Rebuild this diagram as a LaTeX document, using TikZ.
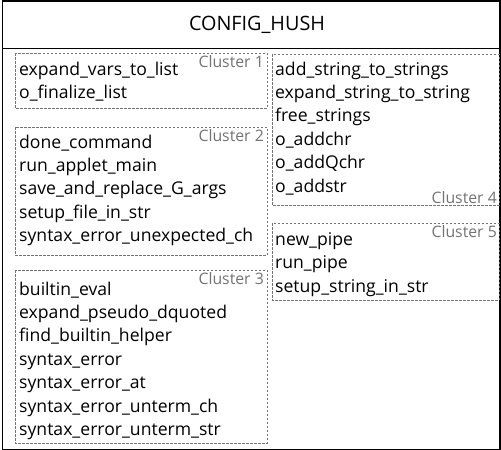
\documentclass[tikz,border=0pt]{standalone}
\usepackage{fontspec}
\setmainfont{Open Sans}
\begin{document}
\begin{tikzpicture}[x=1pt,y=-1pt,
  fn/.style={anchor=base west,inner sep=0pt,font=\fontsize{17.6}{20}\selectfont,text=black},
  clabel/.style={inner sep=0pt,font=\fontsize{15.8}{18}\selectfont,text=black!55},
  cluster/.style={draw=black!55,dashed,dash pattern=on 2.5pt off 1.5pt,line width=0.8pt}]
\useasboundingbox (0,0) rectangle (501,450);
% outer frame
\draw[line width=1.2pt] (2.5,1) rectangle (500,449.5);
\draw[line width=1pt] (2.5,48) -- (500,48);
\node[inner sep=0pt,font=\fontsize{19.8}{23}\selectfont] (title) at (257,25) {CONFIG\_HUSH};
% clusters
\draw[cluster] (15,53) rectangle (267,108);
\draw[cluster] (15,127) rectangle (267,255);
\draw[cluster] (15,270) rectangle (267,443);
\draw[cluster] (272,54) rectangle (499,205);
\draw[cluster] (272,223) rectangle (499,300);
\node[clabel,anchor=north east] (l1) at (264,55) {Cluster 1};
\node[clabel,anchor=north east] (l2) at (264,129) {Cluster 2};
\node[clabel,anchor=north east] (l3) at (264,272) {Cluster 3};
\node[clabel,anchor=south east] (l4) at (497,204) {Cluster 4};
\node[clabel,anchor=north east] (l5) at (497,225) {Cluster 5};
% cluster 1
\node[fn] (a1) at (19,75) {expand\_vars\_to\_list};
\node[fn] (a2) at (19,98.4) {o\_finalize\_list};
% cluster 2
\node[fn] (b1) at (19,148) {done\_command};
\node[fn] (b2) at (19,171.4) {run\_applet\_main};
\node[fn] (b3) at (19,194.8) {save\_and\_replace\_G\_args};
\node[fn] (b4) at (19,218.2) {setup\_file\_in\_str};
\node[fn] (b5) at (19,241.6) {syntax\_error\_unexpected\_ch};
% cluster 3
\node[fn] (c1) at (19,295) {builtin\_eval};
\node[fn] (c2) at (19,318.4) {expand\_pseudo\_dquoted};
\node[fn] (c3) at (19,341.8) {find\_builtin\_helper};
\node[fn] (c4) at (19,365.2) {syntax\_error};
\node[fn] (c5) at (19,388.6) {syntax\_error\_at};
\node[fn] (c6) at (19,412) {syntax\_error\_unterm\_ch};
\node[fn] (c7) at (19,435.4) {syntax\_error\_unterm\_str};
% cluster 4
\node[fn] (d1) at (275,75) {add\_string\_to\_strings};
\node[fn] (d2) at (275,98.4) {expand\_string\_to\_string};
\node[fn] (d3) at (275,121.8) {free\_strings};
\node[fn] (d4) at (275,145.2) {o\_addchr};
\node[fn] (d5) at (275,168.6) {o\_addQchr};
\node[fn] (d6) at (275,192) {o\_addstr};
% cluster 5
\node[fn] (e1) at (275,245.5) {new\_pipe};
\node[fn] (e2) at (275,268.9) {run\_pipe};
\node[fn] (e3) at (275,292.3) {setup\_string\_in\_str};
\end{tikzpicture}
\end{document}
